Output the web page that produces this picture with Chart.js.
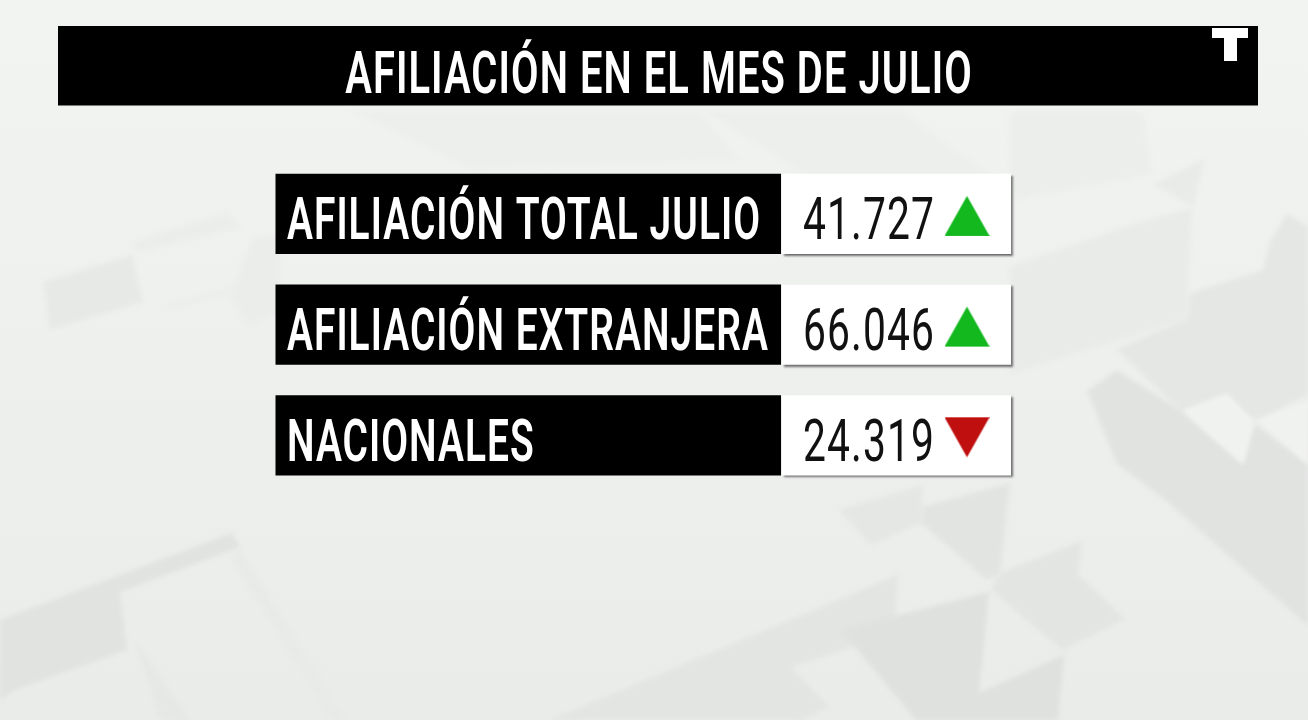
<!DOCTYPE html>
<html lang="es"><head><meta charset="utf-8">
<style>html,body{margin:0;padding:0;background:#edefec;overflow:hidden}#w{width:1308px;height:720px;position:relative;overflow:hidden}canvas{display:block;filter:blur(.55px)}</style>
<script src="https://cdn.jsdelivr.net/npm/chart.js@4/dist/chart.umd.min.js"></script>
</head><body><div id="w"><canvas id="c" width="1308" height="720"></canvas></div>
<script>
const chartTitle = 'AFILIACIÓN EN EL MES DE JULIO';
const categories = ['AFILIACIÓN TOTAL JULIO', 'AFILIACIÓN EXTRANJERA', 'NACIONALES'];
const seriesValues = [41727, 66046, 24319];
const seriesTrend = [1, 1, -1];

const LABEL_COL = [275.5, 781], VALUE_COL = [782, 1011], TREND_X = 967;
const UP = '#12b81e', DOWN = '#c00f0f';

function tri(dir, color) {
  const cv = document.createElement('canvas'); cv.width = 45; cv.height = 46;
  const g = cv.getContext('2d'); g.fillStyle = color; g.beginPath();
  if (dir > 0) { g.moveTo(22.5, 5); g.lineTo(45, 45); g.lineTo(0, 45); }
  else { g.moveTo(0, 5); g.lineTo(45, 5); g.lineTo(22.5, 45); }
  g.closePath(); g.fill(); return cv;
}
const shapes = [
 ['#e1e3e0',[[0,620],[232,533],[240,547],[120,592],[127,650],[15,690],[0,700]]],
 ['#e6e8e5',[[120,592],[135,640],[190,720],[160,720]]],
 ['#e8eae7',[[238,547],[345,720],[332,720],[232,560]]],
 ['#e5e7e4',[[839,510],[923,485],[921,523],[871,545]]],
 ['#e2e4e1',[[923,507],[1010,483],[1000,573],[987,580],[921,523]]],
 ['#e3e5e2',[[1000,573],[1082,541],[1078,574],[1125,619],[1062,650],[991,590]]],
 ['#e3e5e2',[[550,720],[898,575],[894,633],[791,667],[829,707],[800,720]]],
 ['#dfe1de',[[841,630],[989,592],[979,693],[1064,655],[1058,720],[916,720]]],
 ['#ecEeec',[[1010,112],[1143,112],[1153,174],[1010,201]]],
 ['#e9ebe9',[[1153,184],[1205,158],[1193,207]]],
 ['#e9ebe9',[[1010,267],[1133,224],[1192,208],[1187,319],[1010,374]]],
 ['#e5e7e5',[[1190,293],[1263,270],[1270,241],[1287,214],[1308,226],[1308,395],[1260,419],[1180,410],[1117,350],[1123,346],[1187,319]]],
 ['#e1e3e1',[[1087,391],[1117,370],[1180,410],[1243,464],[1255,424],[1308,464],[1308,626],[1163,498],[1117,464]]],
 ['#f0f2ef',[[1183,410],[1227,393],[1253,420],[1243,464]]],
 ['#f0f2ef',[[1258,420],[1308,402],[1308,464]]],
 ['#e7e9e7',[[43,282],[132,255],[143,302],[50,330]]],
 ['#ebedeb',[[132,242],[227,212],[240,228],[137,252]]],
 ['#ebedeb',[[253,238],[280,235],[280,312],[248,327],[230,295]]],
 ['#ebedeb',[[167,305],[230,288],[233,292],[170,309]]],
 ['#edefed',[[700,110],[900,110],[1000,180],[830,190]]],
 ['#edefed',[[350,110],[700,110],[740,160],[470,170]]]
];
function condensed(ctx, text, x, y, font, color, sx, align) {
  ctx.save(); ctx.font = font; ctx.fillStyle = color;
  ctx.textBaseline = 'alphabetic'; ctx.textAlign = align || 'left';
  ctx.letterSpacing = '1.6px';
  ctx.translate(x, y); ctx.scale(sx, 1); ctx.fillText(text, 0, 0); ctx.restore();
}
const backdrop = { id:'backdrop', beforeDraw(ch){ const c = ch.ctx; c.save();
  const gr = c.createLinearGradient(0,0,0,720); gr.addColorStop(0,'#f2f4f2'); gr.addColorStop(1,'#eaecea');
  c.fillStyle = gr; c.fillRect(0,0,1308,720);
  c.filter = 'blur(2px)';
  shapes.forEach(([col,p])=>{ c.fillStyle = col; c.beginPath(); p.forEach(([x,y],i)=> i?c.lineTo(x,y):c.moveTo(x,y)); c.closePath(); c.fill(); });
  c.filter = 'none';
  c.fillStyle = '#000'; c.fillRect(58,26,1200,79.5);
  c.fillStyle = '#fff'; c.beginPath();
  [[1212,28],[1248,28],[1248,38],[1237,38],[1237,61],[1224,61],[1224,38],[1212,38]].forEach(([x,y],i)=> i?c.lineTo(x,y):c.moveTo(x,y));
  c.closePath(); c.fill(); c.restore(); } };
const shadow = { id:'shadow',
  beforeDatasetDraw(ch,a){ if(a.index===1){ const c=ch.ctx; c.save(); c.shadowColor='rgba(90,90,90,.85)'; c.shadowOffsetX=1.5; c.shadowOffsetY=2; c.shadowBlur=2; } },
  afterDatasetDraw(ch,a){ if(a.index===1) ch.ctx.restore(); } };
const texts = { id:'texts', afterDraw(ch){ const c = ch.ctx, y = ch.scales.y, x = ch.scales.x;
  condensed(c, chartTitle, 659, 93, '600 60px Roboto', '#fff', 0.665, 'center');
  categories.forEach((t,i)=>{ const py = y.getPixelForValue(i)+25.5;
    condensed(c, t, x.getPixelForValue(LABEL_COL[0])+11.5, py, '600 60px Roboto', '#fff', 0.648);
    condensed(c, seriesValues[i].toLocaleString('de-DE'), 803, py, '400 60px Roboto', '#111', 0.68);
  }); } };
new Chart(document.getElementById('c'), {
  data: { labels: categories, datasets: [
    { type:'bar', label:'Concepto', data: categories.map(()=>LABEL_COL), backgroundColor:'#000', barPercentage:1, categoryPercentage:0.725, order:3 },
    { type:'bar', label:'Afiliación', data: categories.map(()=>VALUE_COL), backgroundColor:'#fff', barPercentage:1, categoryPercentage:0.725, order:2 },
    { type:'scatter', label:'Tendencia', indexAxis:'y', data: categories.map((c)=>({x:TREND_X,y:c})),
      pointStyle: seriesTrend.map(d=> d>0? tri(1,UP): tri(-1,DOWN)), order:1, clip:false }
  ]},
  options: { indexAxis:'y', responsive:false, animation:false, devicePixelRatio:1,
    layout:{autoPadding:false,padding:{top:158.6,bottom:229.4,left:0,right:0}},
    plugins:{legend:{display:false},tooltip:{enabled:false},title:{display:false}},
    scales:{ x:{type:'linear',min:0,max:1308,display:false}, y:{type:'category',stacked:true,display:false} } },
  plugins:[backdrop,shadow,texts]
});
</script></body></html>
